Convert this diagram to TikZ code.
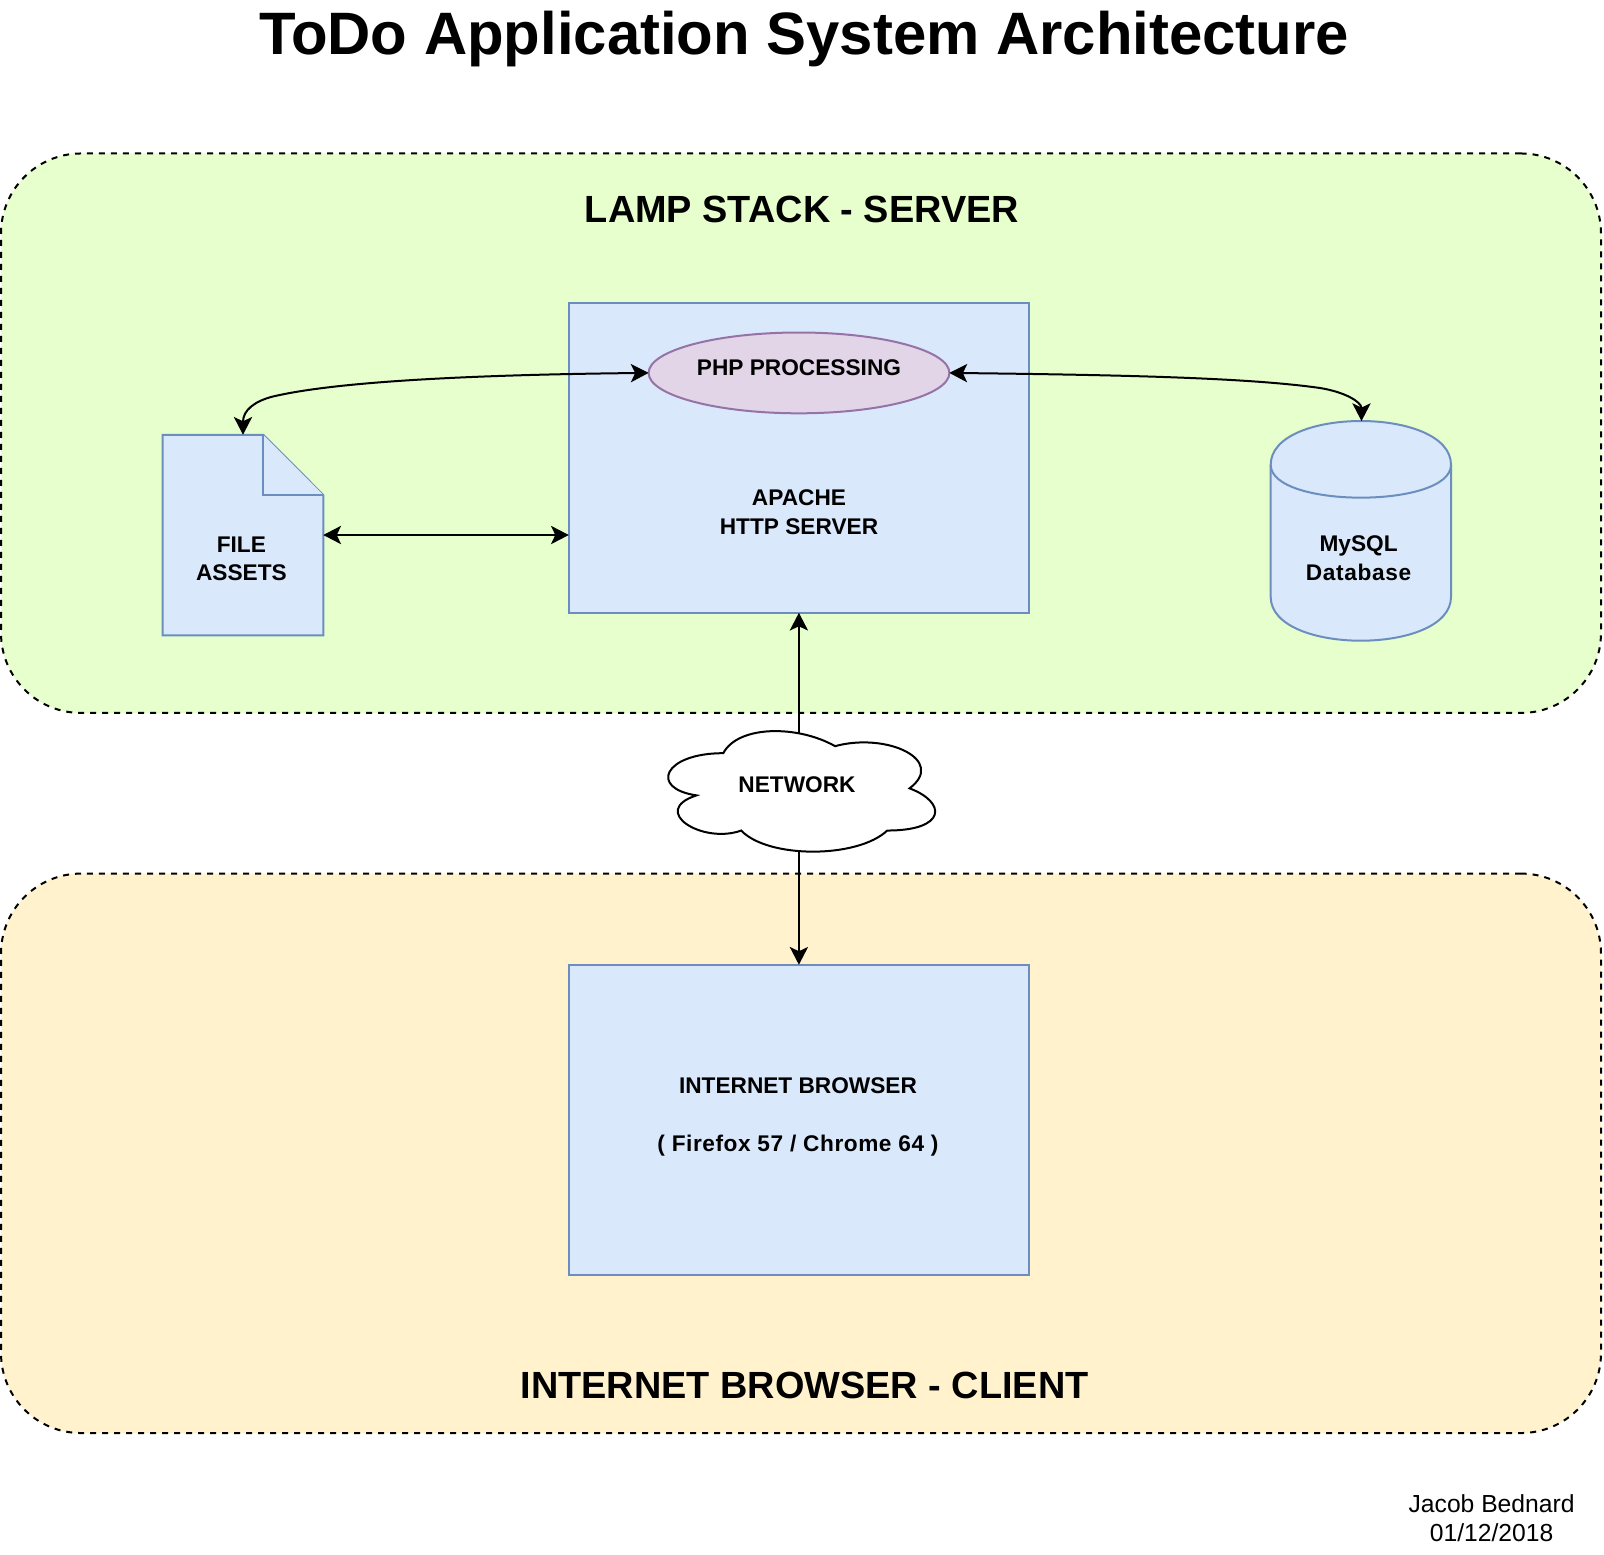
\documentclass[tikz,border=0pt]{standalone}
\usepackage{fontspec}
\setmainfont{Liberation Sans}
\usetikzlibrary{arrows.meta}

\tikzset{
    zone/.style={draw=black, line width=1.5pt, dash pattern=on 4.5pt off 4.5pt, rounded corners=60pt, minimum width=1200pt, minimum height=419.6pt},
    bluebox/.style={draw=boxedge, fill=boxfill, line width=1.5pt, outer sep=0pt},
    serverbox/.style={bluebox, minimum width=345.2pt, minimum height=232.5pt},
    frame/.style={inner sep=0pt, outer sep=0pt},
    boxtext/.style={font=\fontsize{17}{21.4}\selectfont\bfseries, align=center, inner sep=0pt},
    zonetext/.style={font=\fontsize{28.4}{34}\selectfont\bfseries, anchor=base, inner sep=0pt},
    link/.style={line width=1.5pt, -{Stealth[length=13.3pt, width=13.7pt, inset=3.2pt]}},
    dbllink/.style={line width=1.5pt, {Stealth[length=13.3pt, width=13.7pt, inset=3.2pt]}-{Stealth[length=13.3pt, width=13.7pt, inset=3.2pt]}}
}
\definecolor{serverfill}{HTML}{E6FFCC}
\definecolor{clientfill}{HTML}{FFF2CC}
\definecolor{boxfill}{HTML}{DAE8FC}
\definecolor{boxedge}{HTML}{6C8EBF}
\definecolor{phpfill}{HTML}{E1D5E7}
\definecolor{phpedge}{HTML}{9673A6}

\begin{document}
\begin{tikzpicture}[x=0.75pt, y=-0.75pt]
        \useasboundingbox (0,0) rectangle (1604,1554);

        % Title
        \node[font=\fontsize{44.9}{52}\selectfont\bfseries, anchor=base, inner sep=0pt] (title) at (804,54) {ToDo Application System Architecture};

        % Draw the two zones
        \node[zone, fill=serverfill] (serverzone) at (801,433.2) {};
        \node[zone, fill=clientfill] (clientzone) at (801,1153.3) {};
        \node[zonetext] (serverlabel) at (802,222) {LAMP STACK - SERVER};
        \node[zonetext] (clientlabel) at (804.6,1398) {INTERNET BROWSER - CLIENT};

        % Draw the Apache box and PHP ellipse
        \node[serverbox] (apache) at (798.9,457.8) {};
        \node[boxtext] (apachelabel) at (799,512) {APACHE\\HTTP SERVER};
        \draw[fill=phpfill, draw=phpedge, line width=1.5pt] (799,372.9) ellipse[x radius=112.8pt, y radius=30.3pt];
        \node[frame, minimum width=225.6pt, minimum height=60.6pt] (php) at (799,372.9) {};
        \node[boxtext] (phplabel) at (799,368) {PHP PROCESSING};

        % Draw the file
        \draw[bluebox] (162.7,434.8) -- (263.3,434.8) -- (323.3,495) -- (323.3,635.3) -- (162.7,635.3) -- cycle;
        \draw[bluebox] (263.3,434.8) -- (263.3,495) -- (323.3,495);
        \node[frame, minimum width=120.4pt, minimum height=150.4pt] (fileassets) at (243,535) {};
        \node[boxtext] (filelabel) at (241.4,559) {FILE\\ASSETS};

        % Draw the database
        \draw[bluebox] (1270.7,464.8) .. controls (1270.7,406.4) and (1451,406.4) .. (1451,464.8) -- (1451,596.9) .. controls (1451,655.3) and (1270.7,655.3) .. (1270.7,596.9) -- cycle;
        \draw[bluebox, fill=none] (1270.7,464.8) .. controls (1270.7,508.6) and (1451,508.6) .. (1451,464.8);
        \node[frame, minimum width=135.2pt, minimum height=164.8pt] (mysql) at (1361.5,530.9) {};
        \node[boxtext] (mysqllabel) at (1358.6,558) {MySQL\\\addfontfeatures{LetterSpace=3}Database};

        % Draw the browser box
        \node[serverbox] (browser) at (798.9,1119.7) {};
        \node[boxtext, font=\fontsize{17}{43}\selectfont\bfseries] (browserlabel) at (798,1117) {INTERNET BROWSER\\\addfontfeatures{LetterSpace=2.4}( Firefox 57 / Chrome 64 )};

        % Draw the cloud
        \begin{scope}[shift={(648.8,718)}, x=223.5pt, y=-105.5pt]
            \draw[fill=white, line width=1.5pt] (.25,.25) .. controls (.05,.25) and (0,.5) .. (.16,.55)
                .. controls (0,.66) and (.18,.9) .. (.31,.8)
                .. controls (.4,1) and (.7,1) .. (.8,.8)
                .. controls (1,.8) and (1,.6) .. (.875,.5)
                .. controls (1,.3) and (.8,.1) .. (.625,.2)
                .. controls (.5,.05) and (.3,.05) .. (.25,.25) -- cycle;
        \end{scope}
        \node[frame, minimum width=195pt, minimum height=88.8pt] (network) at (798.9,792.5) {};
        \node[boxtext, anchor=base] (networklabel) at (797,792) {NETWORK};

        % Draw the connectors
        \draw[dbllink] (php.west) .. controls (450,375) and (330,383) .. (273,396.5) .. controls (255,401) and (243,410) .. (fileassets.north);
        \draw[dbllink] (php.east) .. controls (1130,375) and (1250,378) .. (1320,388) .. controls (1345,392) and (1361.5,402) .. (mysql.north);
        \draw[dbllink] (fileassets.east) -- (apache.west |- fileassets.east);
        \draw[link] (network) -- (apache);
        \draw[link] (network) -- (browser);

        % Signature
        \node[font=\fontsize{18.5}{21.4}\selectfont, align=center, inner sep=0pt] (signature) at (1491.6,1518.3) {Jacob Bednard\\01/12/2018};
\end{tikzpicture}
\end{document}
